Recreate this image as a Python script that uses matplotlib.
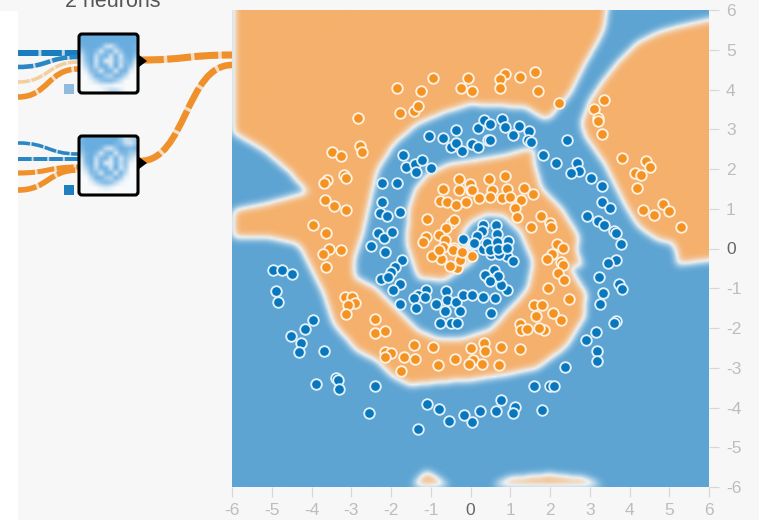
import numpy as np
import matplotlib
matplotlib.use('Agg')
import matplotlib.pyplot as plt
from matplotlib.colors import LinearSegmentedColormap
from matplotlib.patches import FancyBboxPatch, PathPatch, Polygon, Rectangle
from matplotlib.path import Path

plt.rcParams['font.family'] = ['Liberation Sans', 'DejaVu Sans']
plt.rcParams['axes.unicode_minus'] = False

'''
Points read off the picture
'''
orange_x = [-1.84, -1.24, -0.95, -0.07, -0.25, 0.04, -1.78, -1.42, -1.31, -2.82, -2.79, -2.73, -3.49, -3.25, -3.17, -3.12,
            -3.60, -3.69, -3.66, -3.44, -3.12, -3.96, -3.63, -3.55, -3.26, -3.70, -3.63,
            -1.09, -0.69, -0.29, -0.01, -0.28, 0.0, -0.77, -0.58, -0.37, -0.11, -0.48, -0.41, -0.61, -0.80, -1.12, -1.19, -0.63, -0.41, -0.70,
            0.46, 0.88, 0.03, 0.55, 0.91, 1.34, 1.56, 0.22, 0.50, 0.80, 1.0, 1.27, 1.11, 1.16, 1.78, 2.0, 2.03, 1.53, 2.18, 2.32,
            0.05, 2.04, 1.93, 2.27, 2.33, 2.2, 2.35, 1.96, 2.49, 1.61, 1.8, 1.65, 2.07, 2.27, 1.85, 1.73, 1.24, 1.26, 1.43,
            0.76, 1.24, 0.34, 0.36, 0.01, 0.07, 0.30, 0.72,
            0.86, 0.74, 0.73, 1.25, 1.63, 1.69, 2.23, 3.36, 3.10, 3.21, 3.20, 3.31, 3.81, 4.42, 4.52, 4.15, 4.30, 4.19, 4.33, 4.62, 4.84, 4.99, 5.30,
            -3.16, -2.97, -2.91, -3.07, -3.12, -2.39, -2.41, -2.14, -1.43, -0.95, -2.14, -2.0, -2.14, -1.68, -1.40, -1.76, -0.82, -0.38, -0.03,
            -0.74, -0.35, -0.43, -0.98, -0.8, -0.52, -0.27, -0.22]
orange_y = [4.05, 3.97, 4.28, 4.28, 4.04, 3.97, 3.42, 3.45, 3.58, 3.28, 2.59, 2.42, 2.42, 2.32, 1.84, 1.78,
            1.73, 1.66, 1.23, 1.06, 0.98, 0.60, 0.40, -0.01, -0.03, -0.13, -0.47,
            0.75, 1.50, 1.74, 1.63, 1.48, 1.46, 1.19, 1.18, 1.10, 1.16, 0.65, 0.72, 0.51, 0.35, 0.30, 0.16, 0.22, 0.02, 0.03,
            1.75, 1.82, 1.46, 1.46, 1.50, 1.53, 1.36, 1.27, 1.29, 1.27, 1.29, 1.21, 1.01, 0.79, 0.81, 0.64, 0.53, 0.55, 0.12, 0.02,
            -0.18, -0.13, -0.26, -0.33, -0.41, -0.61, -0.78, -0.99, -1.26, -1.43, -1.43, -1.70, -1.63, -1.79, -2.05, -2.0, -1.91, -2.06, -2.02,
            -2.47, -2.52, -2.38, -2.57, -2.50, -2.8, -2.91, -2.93,
            4.40, 4.27, 4.03, 4.31, 4.43, 3.97, 3.66, 3.73, 3.52, 3.29, 3.20, 2.87, 2.27, 2.21, 2.06, 1.91, 1.84, 1.53, 0.98, 0.84, 1.11, 0.94, 0.53,
            -1.21, -1.22, -1.37, -1.42, -1.65, -1.78, -2.13, -2.08, -2.43, -2.49, -2.60, -2.62, -2.73, -2.73, -2.78, -3.09, -2.92, -2.79, -2.9,
            -0.26, -0.49, -0.03, -0.18, -0.05, -0.43, -0.28, -0.08]

blue_x = [-1.69, -1.63, -1.40, -1.21, -1.36, -1.0, -2.22, -1.86, -2.22, -2.28, -2.10, -1.77, -2.32, -2.17, -1.97, -2.51, -2.14, -0.18, 0.03,
          -1.05, -0.68, -0.36, -0.50, -0.37, -0.22, 0.03, 0.2, 0.19, 0.35, 0.45,
          0.5, 0.80, 0.88, 1.22, 1.48, 1.08, 0.5, 1.44, 1.52,
          2.42, 1.82, 2.15, 2.68, 2.72, 2.53, 3.03, 3.32, 3.32, 3.52, 2.93, 3.21, 3.36, 3.61, 3.66, 3.79,
          3.67, 3.47, 3.24, 3.73, 3.81, 3.34, 3.27, 3.65, 3.62, 3.15, 2.90, 3.17, 3.17, 2.38, 1.61, 2.0, 2.11, 0.76, 1.13, 1.08, 0.64, 0.25, 0.03, 1.80,
          -4.98, -4.73, -4.49, -4.89, -4.85, -3.97, -4.16, -4.52, -4.27, -4.31, -3.69, -3.89, -3.38, -3.34, -3.30, -2.39, -2.55, -1.10, -0.79, -0.55, -0.17, -1.32,
          -1.72, -1.89, -1.99, -2.26, -2.07, -1.78, -1.95, -1.78, -1.12, -1.33, -1.15, -1.41, -1.37, -0.87, -0.61, -0.59, -0.36, -0.64, -0.27, -0.77, -0.5, -0.35, -0.18, 0.04,
          0.32, 0.61, 0.52, 0.91, 0.76, 0.59, 0.70, 0.45, 0.36, 0.49, 0.51, 0.92, 1.07, 0.72, 0.32, 0.87,
          0.32, 0.64, 0.30, 0.17, 0.42, 0.67, 0.67, 0.95, 0.07, 0.49, 0.70, 0.92, 0.1]
blue_y = [2.34, 2.05, 2.13, 2.23, 1.92, 2.03, 1.65, 1.64, 1.18, 0.90, 0.83, 0.91, 0.39, 0.27, 0.41, 0.06, -0.09, 0.25, 0.12,
          2.82, 2.78, 2.97, 2.55, 2.66, 2.45, 2.62, 2.55, 3.04, 3.24, 2.72,
          3.12, 3.25, 3.05, 3.09, 2.95, 2.86, 2.72, 2.74, 2.69,
          2.73, 2.36, 2.16, 2.16, 1.94, 1.90, 1.77, 1.56, 1.16, 1.01, 0.83, 0.68, 0.59, 0.45, 0.40, 0.12,
          -0.28, -0.37, -0.72, -0.90, -1.02, -1.12, -1.39, -1.82, -1.88, -2.1, -2.30, -2.57, -2.83, -2.98, -3.47, -3.46, -3.45, -3.82, -3.98, -4.13, -4.08, -4.08, -4.37, -4.06,
          -0.54, -0.54, -0.64, -1.06, -1.35, -1.79, -2.02, -2.21, -2.38, -2.61, -2.57, -3.40, -3.27, -3.31, -3.53, -3.45, -4.14, -3.91, -4.04, -4.35, -4.19, -4.55,
          -0.28, -0.47, -0.58, -0.76, -0.72, -0.89, -1.04, -1.39, -1.04, -1.18, -1.22, -1.24, -1.49, -1.39, -1.08, -1.29, -1.35, -1.58, -1.56, -1.87, -1.87, -1.87, -1.17, -1.18,
          -1.22, -1.24, -1.63, -1.04, -0.93, -0.55, -0.70, -0.74, -0.66, -0.83, -0.15, -0.18, -0.32, -0.15, -0.01, 0.03,
          0.60, 0.58, 0.45, 0.32, 0.13, 0.37, 0.16, 0.20, 0.12, -0.03, -0.01, 0.02, 0.13]

'''
Decision regions, outlines read off the picture
'''
spiral_outline = [(-6, 6), (3.44, 6), (3.38, 5.57), (3.17, 5.15), (2.84, 4.56), (2.5, 3.89), (2.0, 3.3), (1.87, 3.26),
                  (1.41, 3.55), (0.82, 3.6), (0, 3.64), (-0.68, 3.43), (-1.35, 3.14), (-1.94, 2.63), (-2.36, 1.96), (-2.53, 1.21),
                  (-2.7, 0.45), (-2.91, -0.22), (-2.93, -0.72), (-2.43, -0.97), (-1.85, -1.56), (-1.35, -2.06), (-0.85, -2.27),
                  (-0.18, -2.27), (0.49, -2.06), (1.08, -1.43), (1.45, -1.02), (1.58, -0.34), (1.41, 0.07), (1.24, 0.45), (0.82, 0.83),
                  (0.4, 0.87), (0, 0.66), (-0.2, 0.4), (-0.1, 0), (0.1, -0.3), (-0.43, -0.64), (-0.64, -0.8), (-1.31, -0.76), (-1.6, 0.08),
                  (-1.57, 0.96), (-1.4, 1.5), (-1.07, 1.88), (-0.56, 2.13), (0, 2.21), (0.82, 2.34), (1.58, 2.55), (1.62, 2.13), (1.79, 1.54),
                  (2.33, 0.96), (2.75, 0.29), (2.67, -0.05), (2.84, -0.43), (2.5, -0.47), (2.92, -1.14), (2.88, -1.73), (2.42, -2.48),
                  (1.66, -3.03), (0.82, -3.2), (0, -3.32), (-0.68, -3.36), (-1.53, -3.45), (-1.95, -3.24), (-2.37, -2.82), (-2.87, -2.57),
                  (-3.46, -1.9), (-3.71, -1.14), (-3.96, -0.64), (-4.25, -0.05), (-4.38, 0.12), (-5.05, 0.27), (-6, 0.28)]
wedge_outline = [(-6, 2.93), (-5.2, 2.47), (-4.6, 1.96), (-4.1, 1.42), (-5.2, 1.12), (-6, 0.96)]
right_outline = [(6, 5.77), (5.27, 5.61), (4.68, 5.44), (4.26, 5.23), (3.68, 4.65), (3.34, 4.23), (3.0, 3.72), (2.79, 3.14),
                 (2.92, 2.8), (3.34, 2.21), (3.68, 1.54), (3.93, 1.04), (4.26, 0.54), (4.76, 0.2), (5.1, 0.15), (5.2, -0.1), (5.2, -0.4), (6, -0.3)]
bottom_left_outline = [(-1.48, -6), (-1.11, -5.63), (-0.51, -6)]
bottom_right_outline = [(0.49, -6), (1.0, -5.8), (2.0, -5.71), (2.84, -5.8), (3.42, -6)]

'''
Network on the left, in pixels of the screenshot
'''
input_links = [(53, 53, '#1a7dbf', 6.0), (67, 57, '#2b86c4', 4.5), (82, 62, '#f3cf9f', 3.5), (97, 69, '#f0902a', 5.5),
               (143, 154, '#2b86c4', 3.5), (159, 159, '#2b86c4', 4.0), (173, 167, '#f0902a', 5.0), (190, 170, '#f0902a', 5.5)]
output_links = [(60, 55, 7.0), (161, 65, 6.5)]
bias_squares = [(69, 89, '#8fbcdc'), (69, 190, '#1f7fc1')]
box_tops = [33, 135]

thumb_top = [[1, 1, 1, 1, 1, 1, 1, 1, 1, 1, 1, 1],
             [1, 1, 1, 1, 1, 1, 1, 1, 1, 1, 1, 1],
             [.9, 1, 1, 1, .9, .4, .3, .7, 1, 1, 1, .9],
             [.6, .9, 1, .8, .3, .8, .9, .3, .7, 1, 1, .9],
             [.3, .8, 1, .4, .8, .9, .3, .9, .3, .9, 1, .7],
             [.2, .7, 1, .3, .9, .2, .2, .9, .4, .8, .9, .3],
             [.1, .5, .9, .4, .9, .9, .3, 1, .3, .9, .6, .1],
             [0, .2, .8, .8, .3, .9, .9, .3, .9, .9, .2, 0],
             [0, 0, .4, .9, .9, .6, .5, .9, .8, .4, 0, 0],
             [0, 0, .1, .4, .7, .8, .8, .6, .3, 0, 0, 0],
             [0, 0, 0, 0, .1, .1, .1, 0, 0, 0, 0, 0],
             [0, 0, 0, 0, 0, .2, .4, .4, .2, 0, 0, 0]]
thumb_bottom = [[.9, 1, 1, 1, 1, 1, 1, 1, .7, .3, .4, .6],
                [.9, 1, 1, 1, 1, 1, 1, .9, .8, .4, .3, .6],
                [.8, 1, 1, 1, .9, .4, .3, .7, 1, .9, .8, .9],
                [.6, .9, 1, .8, .3, .8, .9, .3, .8, .9, .6, .5],
                [.3, .9, 1, .4, .8, .9, .3, .9, .3, .7, .4, .1],
                [.2, .8, 1, .3, .9, .2, .2, .9, .4, .7, .1, 0],
                [.1, .5, .9, .4, .9, .9, .3, 1, .3, .6, 0, 0],
                [0, .2, .8, .8, .3, .9, .9, .3, .9, .4, 0, 0],
                [0, 0, .4, .9, .9, .6, .5, .9, .6, .1, 0, 0],
                [0, 0, .1, .4, .7, .8, .7, .4, .1, 0, 0, 0],
                [0, 0, 0, 0, .1, .2, .1, 0, 0, 0, 0, 0],
                [0, 0, 0, 0, 0, 0, 0, 0, 0, 0, 0, 0]]

ticks = np.arange(-6, 7)


def region_image(n=300, sigma=0.1):
    '''
    Paint the outlines on a grid and soften the borders like the playground heatmap
    '''
    centres = np.linspace(-6, 6, n)
    xx, yy = np.meshgrid(centres, centres)
    grid = np.column_stack([xx.ravel(), yy.ravel()])
    mask = np.zeros(n*n, dtype=bool)
    for outline in [spiral_outline, right_outline, bottom_left_outline, bottom_right_outline]:
        mask |= Path(outline).contains_points(grid)
    mask &= ~Path(wedge_outline).contains_points(grid)
    field = mask.reshape(n, n).astype(float)
    step = centres[1] - centres[0]
    half = int(3*sigma/step) + 1
    kernel = np.exp(-0.5*(np.arange(-half, half + 1)*step/sigma)**2)
    kernel /= kernel.sum()
    for axis in (0, 1):
        padded = np.pad(field, [(half, half) if a == axis else (0, 0) for a in (0, 1)], mode='edge')
        field = np.apply_along_axis(lambda row: np.convolve(row, kernel, mode='valid'), axis, padded)
    return field


def draw_link(ax, x0, y0, x1, y1, color, width, dash=(3.4, 0.5)):
    mid = (x0 + x1)/2
    path = Path([(x0, y0), (mid, y0), (mid, y1), (x1, y1)], [Path.MOVETO, Path.CURVE4, Path.CURVE4, Path.CURVE4])
    ax.add_patch(PathPatch(path, fill=False, edgecolor=color, lw=width*0.72, alpha=0.25, capstyle='butt', zorder=2))
    ax.add_patch(PathPatch(path, fill=False, edgecolor=color, lw=width*0.72, linestyle=(0, dash), capstyle='butt', zorder=2))


fig = plt.figure(figsize=(7.59, 5.2), dpi=100, facecolor='#f7f7f7')

'''
Network side
'''
net = fig.add_axes([0, 0, 1, 1], zorder=0)
net.set_xlim(0, 759)
net.set_ylim(520, 0)
net.axis('off')
net.add_patch(Rectangle((0, 11), 18, 509, facecolor='white', edgecolor='none', zorder=5))
net.text(113, 7, '2 neurons', ha='center', va='baseline', fontsize=15.5, color='#555555')

for y0, y1, color, width in input_links:
    draw_link(net, 18, y0, 78, y1, color, width)
for (y0, y1, width), top in zip(output_links, box_tops):
    draw_link(net, 140, y0, 232, y1, '#f0902a', width)
for x, y, color in bias_squares:
    net.add_patch(Rectangle((x - 5, y - 5), 10, 10, facecolor=color, edgecolor='none', zorder=3))

thumb_cmap = LinearSegmentedColormap.from_list('thumb', ['#f7f9fa', '#69ade0'])
for top, thumb in zip(box_tops, [thumb_top, thumb_bottom]):
    net.add_patch(FancyBboxPatch((80, top + 3), 58, 58, boxstyle='round,pad=0,rounding_size=4', facecolor='black',
                                 edgecolor='none', alpha=0.12, zorder=2.5))
    net.imshow(np.array(thumb), cmap=thumb_cmap, vmin=0, vmax=1, extent=(79, 138, top + 60, top + 1),
               interpolation='bilinear', aspect='auto', zorder=3)
    net.add_patch(FancyBboxPatch((79, top + 1), 59, 59, boxstyle='round,pad=0,rounding_size=3', fill=False,
                                 edgecolor='black', lw=2.2, zorder=4))
    net.add_patch(Polygon([(139, top + 22), (147, top + 28), (139, top + 34)], closed=True, facecolor='black',
                          edgecolor='none', zorder=4))
net.set_xlim(0, 759)
net.set_ylim(520, 0)

'''
Heatmap with the points
'''
ax = fig.add_axes([232/759, (520 - 487)/520, 477/759, 477/520], zorder=1)
heat_cmap = LinearSegmentedColormap.from_list('heat', ['#5da4d3', '#eef2f4', '#f5b06c'])
ax.imshow(region_image(), origin='lower', extent=(-6, 6, -6, 6), cmap=heat_cmap, vmin=0, vmax=1,
          interpolation='bilinear', aspect='auto')
ax.scatter(orange_x, orange_y, s=58, c='#f59322', edgecolors='#fdf1e2', linewidths=1.35, zorder=3, clip_on=False)
ax.scatter(blue_x, blue_y, s=58, c='#0877bd', edgecolors='#e1f0f9', linewidths=1.35, zorder=3, clip_on=False)

ax.set_xlim(-6, 6)
ax.set_ylim(-6, 6)
for side in ax.spines.values():
    side.set_visible(False)
ax.yaxis.tick_right()
ax.set_xticks(ticks)
ax.set_yticks(ticks)
ax.set_xticklabels([str(t) for t in ticks])
ax.set_yticklabels([str(t) for t in ticks])
ax.tick_params(axis='x', length=7.2, width=0.9, color='#d8d8d8', labelcolor='#bdbdbd', labelsize=12.5, pad=4)
ax.tick_params(axis='y', length=7.2, width=0.9, color='#d8d8d8', labelcolor='#bdbdbd', labelsize=12.5, pad=5)
for axis in (ax.xaxis, ax.yaxis):
    zero = axis.get_major_ticks()[6]
    zero.tick1line.set_color('#8a8a8a')
    zero.tick2line.set_color('#8a8a8a')
    zero.label1.set_color('#666666')
    zero.label2.set_color('#666666')

fig.savefig('out.png', dpi=100, facecolor=fig.get_facecolor())
